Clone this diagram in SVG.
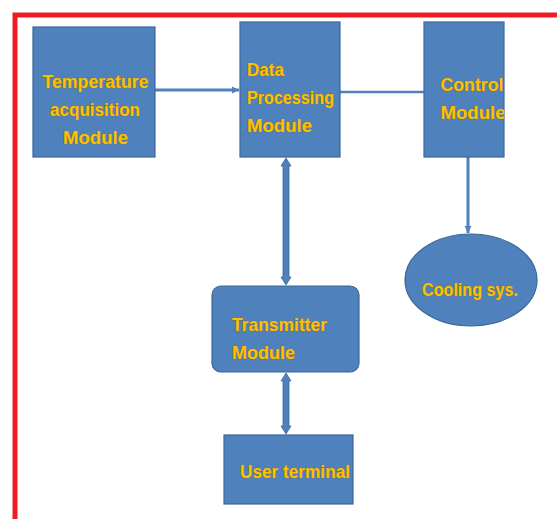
<svg xmlns="http://www.w3.org/2000/svg" width="557" height="519" viewBox="0 0 557 519">
<style>
.box{fill:#4F81BD;stroke:#3B6698;stroke-width:1.2}
.t{font-family:"Liberation Sans",Arial,sans-serif;font-weight:bold;font-size:18.5px;fill:#FFC000;stroke:#7F6A2A;stroke-width:0.7;paint-order:stroke}
.c{fill:#4F81BD;stroke:#3B6698;stroke-width:0.8}
</style>
<defs>
<clipPath id="cpCtrl"><rect x="424" y="22" width="80" height="135"/></clipPath>
<marker id="ah" markerWidth="8" markerHeight="8" refX="7" refY="4" orient="auto" markerUnits="userSpaceOnUse"><path d="M0,0.5 L7,4 L0,7.5 Z" fill="#4F81BD"/></marker>
</defs>
<rect x="0" y="0" width="557" height="519" fill="#FFFFFF"/>
<path d="M15,519 V15 H557" fill="none" stroke="#ED1C24" stroke-width="5"/>
<g id="connectors">
<line x1="155" y1="90" x2="239" y2="90" stroke="#4F81BD" stroke-width="3" marker-end="url(#ah)"/>
<line x1="340" y1="92" x2="424" y2="92" stroke="#4F81BD" stroke-width="2.5"/>
<line x1="468" y1="157" x2="468" y2="233" stroke="#4F81BD" stroke-width="3" marker-end="url(#ah)"/>
<polygon class="c" points="286,158 291,166 289,166 289,277 291,277 286,285 281,277 283,277 283,166 281,166"/>
<polygon class="c" points="286,373 291,381 289,381 289,426 291,426 286,434 281,426 283,426 283,381 281,381"/>
</g>
<g id="temp">
<rect class="box" x="33" y="27" width="122" height="130"/>
<text class="t" x="42.5" y="88" textLength="106" lengthAdjust="spacingAndGlyphs">Temperature</text>
<text class="t" x="50" y="116" textLength="90" lengthAdjust="spacingAndGlyphs">acquisition</text>
<text class="t" x="63" y="144" textLength="65" lengthAdjust="spacingAndGlyphs">Module</text>
</g>
<g id="data">
<rect class="box" x="240" y="22" width="100" height="135"/>
<text class="t" x="247" y="76" textLength="37" lengthAdjust="spacingAndGlyphs">Data</text>
<text class="t" x="247" y="104" textLength="87" lengthAdjust="spacingAndGlyphs">Processing</text>
<text class="t" x="247" y="132" textLength="65" lengthAdjust="spacingAndGlyphs">Module</text>
</g>
<g id="control">
<rect class="box" x="424" y="22" width="80" height="135"/>
<g clip-path="url(#cpCtrl)">
<text class="t" x="440.5" y="91" textLength="63" lengthAdjust="spacingAndGlyphs">Control</text>
<text class="t" x="440.5" y="119" textLength="65" lengthAdjust="spacingAndGlyphs">Module</text>
</g>
</g>
<g id="cooling">
<ellipse class="box" cx="471" cy="280" rx="66" ry="46"/>
<text class="t" x="422" y="296" textLength="96" lengthAdjust="spacingAndGlyphs">Cooling sys.</text>
</g>
<g id="transmitter">
<rect class="box" x="212" y="286" width="147" height="86" rx="9"/>
<text class="t" x="232" y="331" textLength="95" lengthAdjust="spacingAndGlyphs">Transmitter</text>
<text class="t" x="232" y="359" textLength="63" lengthAdjust="spacingAndGlyphs">Module</text>
</g>
<g id="user">
<rect class="box" x="224" y="435" width="129" height="69"/>
<text class="t" x="240" y="478" textLength="110" lengthAdjust="spacingAndGlyphs">User terminal</text>
</g>
</svg>
